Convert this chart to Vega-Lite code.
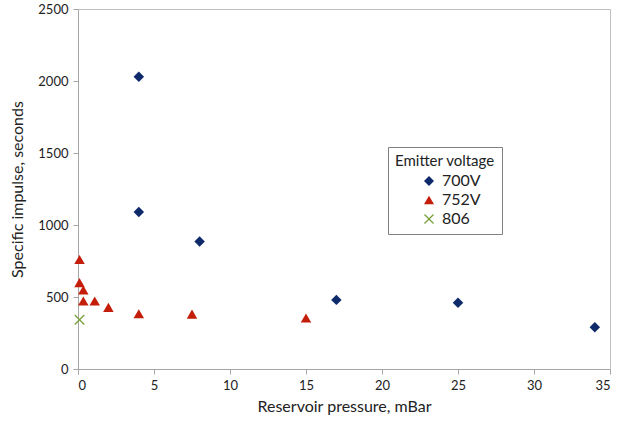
{
  "$schema": "https://vega.github.io/schema/vega-lite/v6.json",
  "width": 532,
  "height": 360,
  "autosize": {"type": "none"},
  "padding": {"left": 78, "top": 9, "right": 11, "bottom": 52},
  "background": "white",
  "config": {
    "font": "Lato",
    "view": {"stroke": "#BFBFBF", "strokeWidth": 1},
    "axis": {"grid": false, "domainColor": "#A6A6A6", "tickColor": "#A6A6A6", "tickSize": 5, "labelColor": "#222222", "titleColor": "#222222", "labelFontSize": 13, "titleFontSize": 16, "titleFontWeight": "normal", "labelPadding": 5, "format": "d"}
  },
  "data": {
    "values": [
      {"p": 4, "isp": 2030, "v": "700V"},
      {"p": 4, "isp": 1090, "v": "700V"},
      {"p": 8, "isp": 885, "v": "700V"},
      {"p": 17, "isp": 480, "v": "700V"},
      {"p": 25, "isp": 460, "v": "700V"},
      {"p": 34, "isp": 290, "v": "700V"},
      {"p": 0.1, "isp": 760, "v": "752V"},
      {"p": 0.1, "isp": 600, "v": "752V"},
      {"p": 0.35, "isp": 549, "v": "752V"},
      {"p": 0.35, "isp": 472, "v": "752V"},
      {"p": 1.1, "isp": 472, "v": "752V"},
      {"p": 2, "isp": 428, "v": "752V"},
      {"p": 4, "isp": 384, "v": "752V"},
      {"p": 7.5, "isp": 381, "v": "752V"},
      {"p": 15, "isp": 354, "v": "752V"},
      {"p": 0.1, "isp": 342, "v": "806"}
    ]
  },
  "mark": {"type": "point", "filled": true, "opacity": 1, "size": 110},
  "encoding": {
    "x": {"field": "p", "type": "quantitative", "title": "Reservoir pressure, mBar", "scale": {"domain": [0, 35], "nice": false, "zero": true}, "axis": {"values": [0, 5, 10, 15, 20, 25, 30, 35], "titlePadding": 6}},
    "y": {"field": "isp", "type": "quantitative", "title": "Specific impulse, seconds", "scale": {"domain": [0, 2500], "nice": false}, "axis": {"values": [0, 500, 1000, 1500, 2000, 2500], "titlePadding": 12}},
    "color": {"field": "v", "type": "nominal", "scale": {"domain": ["700V", "752V", "806"], "range": ["#0E2A6B", "#C41E0A", "#77A03C"]},
      "legend": {"title": "Emitter voltage", "orient": "none", "legendX": 310, "legendY": 138, "strokeColor": "#808080", "fillColor": "white", "padding": 7, "titlePadding": 4, "titleFontSize": 15, "titleFontWeight": "normal", "titleColor": "#222222", "labelFontSize": 16, "labelColor": "#222222", "labelOffset": 5, "symbolSize": 100, "symbolOffset": 26, "rowPadding": 3, "offset": 0}},
    "shape": {"field": "v", "type": "nominal", "scale": {"domain": ["700V", "752V", "806"], "range": ["diamond", "triangle-up", "M-1,-0.82L-0.82,-1L0,-0.18L0.82,-1L1,-0.82L0.18,0L1,0.82L0.82,1L0,0.18L-0.82,1L-1,0.82L-0.18,0Z"]}}
  }
}
